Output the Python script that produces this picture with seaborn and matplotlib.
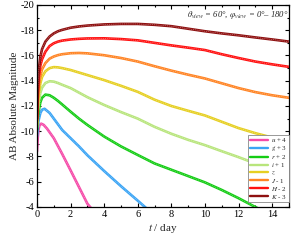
import numpy as np
import pandas as pd
import seaborn as sns
import matplotlib
matplotlib.use("Agg")
import matplotlib.pyplot as plt
from matplotlib.ticker import MultipleLocator

# light curves (AB mag, band offsets already applied)
t_main = [0, 0.05, 0.1, 0.2, 0.3, 0.5, 0.75, 1, 1.25, 1.5, 2, 2.5, 3, 4, 5, 6, 7, 8, 9, 10, 11, 12, 13, 14, 15]
mag_K = [-11.0, -13.5, -14.8, -15.9, -16.5, -17.1, -17.5, -17.75, -17.92, -18.03, -18.2, -18.3, -18.37, -18.46, -18.5,
         -18.5, -18.43, -18.32, -18.12, -17.92, -17.75, -17.6, -17.43, -17.27, -17.1]
mag_H = [-10.9, -13.0, -14.2, -15.2, -15.7, -16.3, -16.75, -16.97, -17.1, -17.18, -17.27, -17.32, -17.35, -17.36, -17.3,
         -17.2, -17.0, -16.8, -16.62, -16.43, -16.1, -15.8, -15.52, -15.3, -15.1]
mag_J = [-10.7, -12.5, -13.5, -14.4, -14.9, -15.4, -15.75, -15.92, -16.03, -16.1, -16.18, -16.2, -16.17, -16.02, -15.8,
         -15.52, -15.15, -14.8, -14.48, -14.18, -13.8, -13.42, -13.1, -12.85, -12.65]
mag_z = [-10.5, -12.0, -12.9, -13.8, -14.3, -14.75, -15.0, -15.08, -15.06, -15.0, -14.85, -14.65, -14.45, -14.05, -13.6,
         -13.12, -12.5, -12.0, -11.62, -11.25, -10.75, -10.25, -9.85, -9.5, -9.2]
mag_i = [-10.3, -11.5, -12.3, -13.05, -13.45, -13.82, -13.96, -13.93, -13.82, -13.68, -13.42, -13.06, -12.7, -12.08,
         -11.52, -11.0, -10.35, -9.8, -9.32, -8.9, -8.42, -7.95, -7.45, -6.92, -6.45]

t_r = [0, 0.05, 0.1, 0.2, 0.3, 0.5, 0.75, 1, 1.25, 1.5, 2, 2.5, 3, 4, 5, 6, 7, 8, 9, 10, 11, 12, 13, 13.3]
mag_r = [-10.1, -11.0, -11.6, -12.3, -12.65, -12.9, -12.85, -12.65, -12.4, -12.12, -11.55, -11.0, -10.5, -9.58, -8.8,
         -8.12, -7.45, -6.95, -6.45, -5.95, -5.35, -4.7, -4.0, -3.8]

t_g = [0, 0.05, 0.1, 0.2, 0.3, 0.45, 0.75, 1, 1.25, 1.5, 2, 2.5, 3, 4, 5, 6, 6.6]
mag_g = [-9.6, -10.4, -10.9, -11.45, -11.7, -11.78, -11.45, -11.0, -10.55, -10.1, -9.45, -8.8, -8.1, -6.85, -5.65,
         -4.5, -3.8]

t_u = [0, 0.05, 0.1, 0.15, 0.25, 0.4, 0.6, 1, 1.5, 2, 2.5, 3, 3.35]
mag_u = [-8.4, -9.6, -10.2, -10.48, -10.6, -10.5, -10.2, -9.45, -8.2, -6.9, -5.58, -4.26, -3.7]

labels = [r"$u$ + 4", r"$g$ + 3", r"$r$ + 2", r"$i$ + 1", r"$z$", r"$J$ - 1", r"$H$ - 2", r"$K$ - 3"]
colors = ["#f54aa8", "#3aa4f5", "#14cc14", "#b8e57c", "#e6cf22", "#ff8424", "#ff1010", "#8e1010"]

series = [(t_u, mag_u), (t_g, mag_g), (t_r, mag_r), (t_main, mag_i),
          (t_main, mag_z), (t_main, mag_J), (t_main, mag_H), (t_main, mag_K)]

sns.set_theme(style="ticks")
plt.rcParams["font.family"] = ["Liberation Serif", "DejaVu Serif"]
plt.rcParams["mathtext.fontset"] = "stix"

fig = plt.figure(figsize=(2.93, 2.40), dpi=100)
ax = fig.add_axes([0.1263, 0.1375, 0.8597, 0.8417])

for (tt, mm), lab, c in zip(series, labels, colors):
    df = pd.DataFrame({"t": tt, "mag": mm})
    sns.lineplot(data=df, x="t", y="mag", color=c, lw=1.9, ax=ax, label=lab)
    sns.lineplot(data=df, x="t", y="mag", color="white", lw=0.45, alpha=0.5,
                 linestyle=(0, (1.5, 1.5)), ax=ax, legend=False)

ax.set_xlim(0, 15)
ax.set_ylim(-4, -20)
ax.xaxis.set_major_locator(MultipleLocator(2))
ax.xaxis.set_minor_locator(MultipleLocator(1))
ax.yaxis.set_major_locator(MultipleLocator(2))
ax.yaxis.set_minor_locator(MultipleLocator(1))
ax.tick_params(which="both", direction="in", top=True, right=True, width=0.8,
               labelsize=7.5, pad=2, colors="black")
ax.tick_params(which="major", length=3)
ax.tick_params(which="minor", length=1.6)
ax.set_yticks(range(-20, -3, 2))
ax.set_yticklabels([f"{v}" for v in range(-20, -3, 2)])
for s in ax.spines.values():
    s.set_linewidth(0.9)
    s.set_color("black")

ax.set_xlabel(r"$t$ / day", fontsize=8, labelpad=2)
ax.set_ylabel("AB Absolute Magnitude", fontsize=8, labelpad=1)

ax.text(0.998, 0.94, r"$\theta_{view}$ = 60°, $\varphi_{view}$ = 0°– 180°",
        transform=ax.transAxes, ha="right", va="baseline", fontsize=6.2,
        style="italic")

leg = ax.legend(loc="lower right", bbox_to_anchor=(1.0, 0.025), borderaxespad=0,
                fontsize=5, frameon=True, fancybox=False, edgecolor="#888888",
                framealpha=1, handlelength=2.6, handletextpad=0.5,
                labelspacing=0.0, borderpad=0.2)
leg.get_frame().set_linewidth(0.6)
for line in leg.get_lines():
    line.set_linewidth(1.7)

fig.savefig("out.png", dpi=100)
